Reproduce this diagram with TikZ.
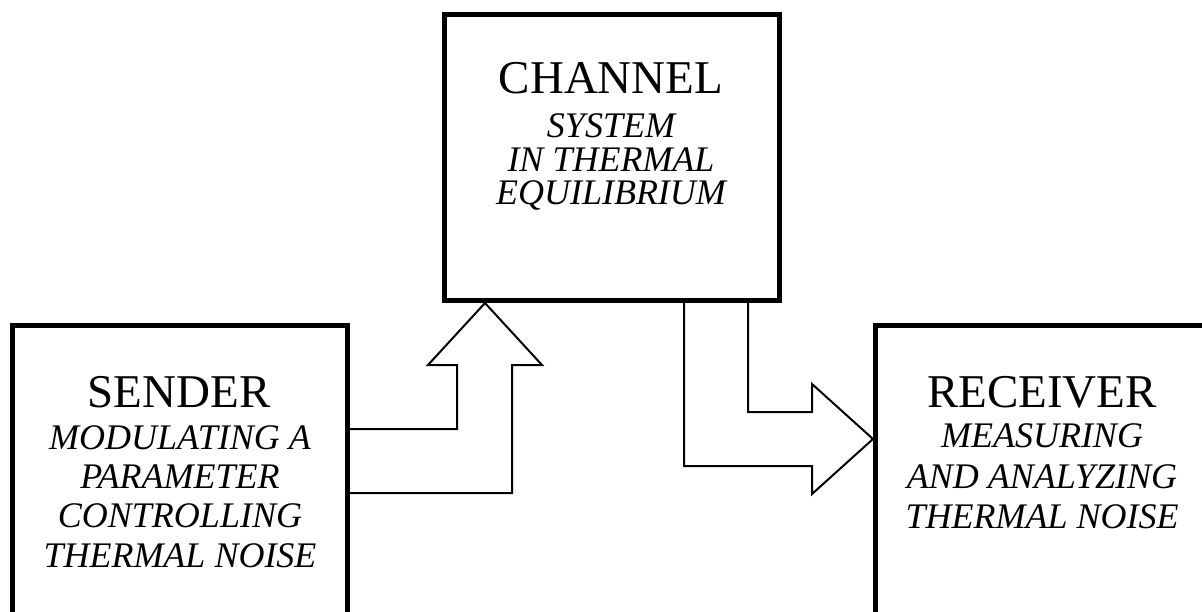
\documentclass[tikz,border=0pt]{standalone}
\usepackage{fontspec}
\setmainfont{Liberation Serif}
\begin{document}
\begin{tikzpicture}[x=1pt,y=-1pt,
  box/.style={draw, line width=5pt, rectangle, inner sep=0pt, outer sep=2.5pt},
  headtext/.style={anchor=base, inner sep=0pt, font=\fontsize{47}{47}\selectfont},
  subtext/.style={anchor=base, inner sep=0pt, font=\fontsize{36}{36}\selectfont\itshape},
  blockarrow/.style={draw, line width=2pt, line join=miter}]
\useasboundingbox (0,0) rectangle (1202,611);
\begin{scope}
\clip (0,0) rectangle (1202,611);
% boxes
\node[box, minimum width=335pt, minimum height=400pt] (sender) at (180,525.5) {};
\node[box, minimum width=335pt, minimum height=286pt] (channel) at (612,157.5) {};
\node[box, minimum width=333pt, minimum height=400pt] (receiver) at (1042,525.5) {};
% block arrows
\draw[blockarrow] (sender.east |- 0,429) -- (457,429) -- (457,365) -- (428,365)
  -- (channel.south -| 485,0) -- (542,365) -- (512,365) -- (512,493) -- (sender.east |- 0,493);
\draw[blockarrow] (channel.south -| 748,0) -- (748,412) -- (812,412) -- (812,384)
  -- (receiver.west |- 0,439) -- (812,494) -- (812,466) -- (684,466) -- (channel.south -| 684,0);
% sender text
\node[headtext] (s0) at (179,407) {SENDER};
\node[subtext] (s1) at (180,449) {MODULATING A};
\node[subtext] (s2) at (180,488) {PARAMETER};
\node[subtext] (s3) at (180,527) {CONTROLLING};
\node[subtext] (s4) at (180,567) {THERMAL NOISE};
% channel text
\node[headtext] (c0) at (611,93) {CHANNEL};
\node[subtext] (c1) at (611,137) {SYSTEM};
\node[subtext] (c2) at (611,171) {IN THERMAL};
\node[subtext] (c3) at (611,204) {EQUILIBRIUM};
% receiver text
\node[headtext] (r0) at (1042,407) {RECEIVER};
\node[subtext] (r1) at (1042,447) {MEASURING};
\node[subtext] (r2) at (1042,488) {AND ANALYZING};
\node[subtext] (r3) at (1042,528) {THERMAL NOISE};
\end{scope}
\end{tikzpicture}
\end{document}
